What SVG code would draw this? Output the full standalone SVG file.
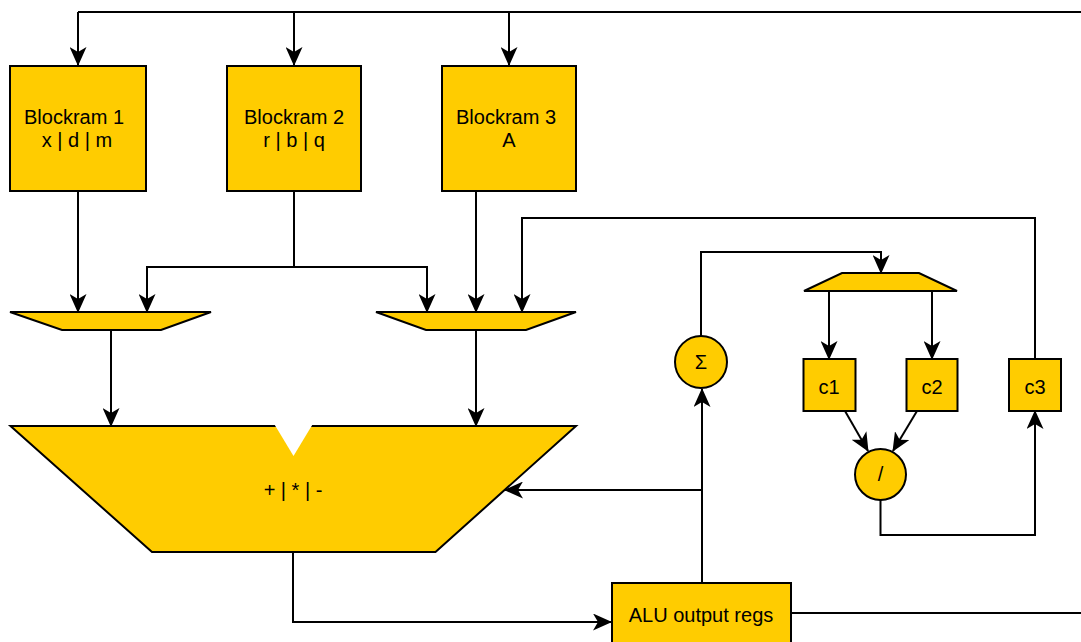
<svg xmlns="http://www.w3.org/2000/svg" width="1081" height="642" viewBox="0 0 1081 642">
<style>
.shape{fill:#FFCC00;stroke:#000;stroke-width:2}
.wire{fill:none;stroke:#000;stroke-width:2}
.arr{marker-end:url(#ah)}
text{font-family:"Liberation Sans",Arial,Helvetica,sans-serif;font-size:20px;fill:#000;text-anchor:middle}
</style>
<defs>
<marker id="ah" markerUnits="userSpaceOnUse" viewBox="0 0 19 17" refX="18" refY="8.5" markerWidth="19" markerHeight="17" orient="auto">
<path d="M0,0 L19,8.5 L0,17 L5,8.5 Z" fill="#000"/>
</marker>
</defs>
<rect width="1081" height="642" fill="#fff"/>
<g id="connectors">
<path class="wire" d="M1081,12 H78"/>
<path class="wire arr" d="M78,12 V65"/>
<path class="wire arr" d="M294,12 V65"/>
<path class="wire arr" d="M509,12 V65"/>
<path class="wire arr" d="M78,191 V312"/>
<path class="wire arr" d="M294,191 V267 H147 V312"/>
<path class="wire arr" d="M294,267 H427 V312"/>
<path class="wire arr" d="M476,191 V312"/>
<path class="wire arr" d="M1035,358 V218 H522 V312"/>
<path class="wire arr" d="M111,330 V426"/>
<path class="wire arr" d="M476,330 V426"/>
<path class="wire arr" d="M293,552 V622 H611"/>
<path class="wire arr" d="M702,583 V389"/>
<path class="wire arr" d="M702,490 H505"/>
<path class="wire arr" d="M701,336 V252 H881 V273"/>
<path class="wire arr" d="M829,291 V359"/>
<path class="wire arr" d="M932,291 V359"/>
<path class="wire arr" d="M845,411 L868,451"/>
<path class="wire arr" d="M917,411 L893,451"/>
<path class="wire arr" d="M880.5,500 V535 H1035 V411"/>
<path class="wire" d="M791,613 H1081"/>
</g>
<g id="blockram1">
<rect class="shape" x="10" y="66" width="136" height="125"/>
<text x="74" y="124">Blockram 1</text>
<text x="77" y="147">x | d | m</text>
</g>
<g id="blockram2">
<rect class="shape" x="227" y="66" width="134" height="125"/>
<text x="294" y="124">Blockram 2</text>
<text x="294" y="147">r | b | q</text>
</g>
<g id="blockram3">
<rect class="shape" x="442" y="66" width="134" height="125"/>
<text x="506" y="124">Blockram 3</text>
<text x="509" y="147">A</text>
</g>
<g id="mux1">
<polygon class="shape" points="10,312 211,312 161,330 62,330"/>
</g>
<g id="mux2">
<polygon class="shape" points="376,312 576,312 526,330 426,330"/>
</g>
<g id="alu">
<polygon class="shape" points="10.5,426 576,426 435.5,552 152,552"/>
<polygon points="274.5,424.5 312.5,424.5 293.5,456" fill="#fff"/>
<text x="293" y="497">+ | * | -</text>
</g>
<g id="alu-output-regs">
<rect class="shape" x="612" y="583" width="179" height="64"/>
<text x="701" y="621.5">ALU output regs</text>
</g>
<g id="sigma">
<circle class="shape" cx="701" cy="362" r="26"/>
<text x="701" y="369">Σ</text>
</g>
<g id="mux3">
<polygon class="shape" points="842,273 919,273 957,291 804,291"/>
</g>
<g id="c1">
<rect class="shape" x="803.5" y="359" width="52" height="52"/>
<text x="829" y="394">c1</text>
</g>
<g id="c2">
<rect class="shape" x="906.5" y="359" width="51" height="52"/>
<text x="932" y="394">c2</text>
</g>
<g id="c3">
<rect class="shape" x="1009" y="359" width="52" height="52"/>
<text x="1035" y="394">c3</text>
</g>
<g id="div">
<circle class="shape" cx="880.5" cy="474.5" r="25.5"/>
<text x="880.5" y="481">/</text>
</g>
</svg>
